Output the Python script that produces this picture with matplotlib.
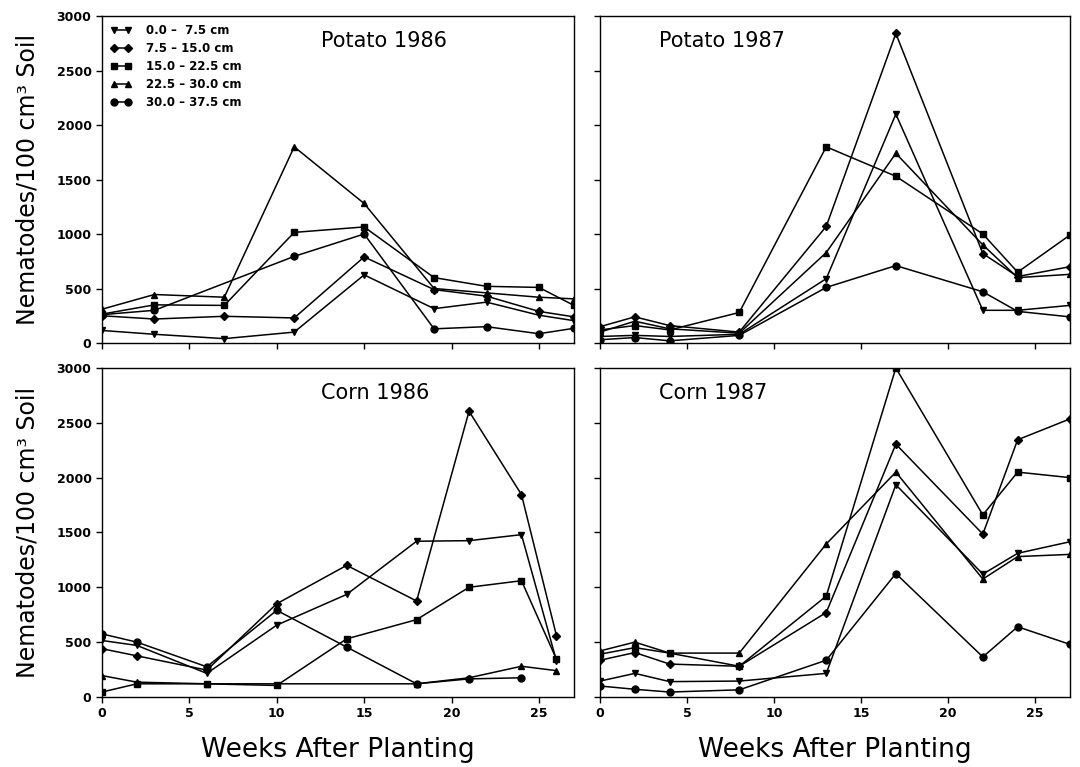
import numpy as np
import matplotlib.pyplot as plt

# depth classes and their markers
depths = ['0.0 \u2013  7.5 cm', '7.5 \u2013 15.0 cm', '15.0 \u2013 22.5 cm',
          '22.5 \u2013 30.0 cm', '30.0 \u2013 37.5 cm']
markers = ['v', 'D', 's', '^', 'o']

# Potato 1986
pot86_weeks = [0, 3, 7, 11, 15, 19, 22, 25, 27]
pot86_d1 = [115, 80, 40, 100, 625, 315, 375, 255, 205]
pot86_d2 = [250, 220, 245, 230, 790, 490, 430, 290, 240]
pot86_d3 = [265, 350, 345, 1015, 1065, 600, 520, 510, 345]
pot86_d4 = [310, 445, 420, 1800, 1280, 500, 460, 420, 405]
pot86_d5_weeks = [0, 3, 11, 15, 19, 22, 25, 27]
pot86_d5 = [260, 300, 795, 1000, 130, 150, 85, 135]

# Potato 1987
pot87_weeks = [0, 2, 4, 8, 13, 17, 22, 24, 27]
pot87_d1 = [60, 70, 60, 80, 590, 2100, 300, 300, 345]
pot87_d2 = [150, 240, 160, 100, 1070, 2840, 820, 610, 700]
pot87_d3 = [120, 160, 120, 280, 1800, 1530, 1000, 650, 990]
pot87_d4 = [100, 200, 130, 90, 830, 1740, 900, 600, 630]
pot87_d5 = [30, 50, 20, 70, 510, 710, 470, 290, 240]

# Corn 1986
corn86_weeks = [0, 2, 6, 10, 14, 18, 21, 24, 26]
corn86_d1 = [515, 470, 215, 655, 935, 1420, 1425, 1480, 330]
corn86_d2 = [440, 375, 245, 850, 1200, 875, 2605, 1845, 560]
corn86_d3 = [45, 120, 120, 105, 530, 705, 1000, 1060, 345]
corn86_d4_weeks = [0, 2, 6, 18, 21, 24, 26]
corn86_d4 = [195, 135, 120, 120, 175, 280, 240]
corn86_d5_weeks = [0, 2, 6, 10, 14, 18, 21, 24]
corn86_d5 = [575, 500, 275, 790, 455, 120, 165, 175]

# Corn 1987
corn87_weeks = [0, 2, 4, 8, 13, 17, 22, 24, 27]
corn87_d1 = [145, 215, 140, 145, 215, 1935, 1120, 1310, 1415]
corn87_d2 = [335, 405, 300, 280, 770, 2305, 1485, 2345, 2535]
corn87_d3 = [390, 450, 400, 280, 920, 3000, 1660, 2050, 2000]
corn87_d4 = [420, 500, 400, 400, 1395, 2050, 1075, 1280, 1300]
corn87_d5 = [100, 70, 45, 65, 335, 1125, 365, 640, 480]

panels = [
    ('Potato 1986', [(pot86_weeks, pot86_d1), (pot86_weeks, pot86_d2),
                     (pot86_weeks, pot86_d3), (pot86_weeks, pot86_d4),
                     (pot86_d5_weeks, pot86_d5)]),
    ('Potato 1987', [(pot87_weeks, pot87_d1), (pot87_weeks, pot87_d2),
                     (pot87_weeks, pot87_d3), (pot87_weeks, pot87_d4),
                     (pot87_weeks, pot87_d5)]),
    ('Corn 1986', [(corn86_weeks, corn86_d1), (corn86_weeks, corn86_d2),
                   (corn86_weeks, corn86_d3), (corn86_d4_weeks, corn86_d4),
                   (corn86_d5_weeks, corn86_d5)]),
    ('Corn 1987', [(corn87_weeks, corn87_d1), (corn87_weeks, corn87_d2),
                   (corn87_weeks, corn87_d3), (corn87_weeks, corn87_d4),
                   (corn87_weeks, corn87_d5)]),
]

fig = plt.figure(figsize=(10.8, 7.67), dpi=100)
rects = [
    [0.0944, 0.5528, 0.437, 0.4263],
    [0.5556, 0.5528, 0.435, 0.4263],
    [0.0944, 0.0913, 0.437, 0.4290],
    [0.5556, 0.0913, 0.435, 0.4290],
]
title_x = [0.465, 0.125, 0.465, 0.125]

for i, ((title, series), rect) in enumerate(zip(panels, rects)):
    ax = fig.add_axes(rect)
    for (wk, vals), m, lab in zip(series, markers, depths):
        ax.plot(wk, vals, color='black', linewidth=1.1, marker=m,
                markersize=5 if m != 'D' else 4, label=lab)
    ax.set_xlim(0, 27)
    ax.set_ylim(0, 3000)
    ax.set_xticks(np.arange(0, 26, 5))
    ax.set_yticks(np.arange(0, 3001, 500))
    ax.tick_params(direction='out', length=4, width=1, labelsize=9)
    for lbl in ax.get_xticklabels() + ax.get_yticklabels():
        lbl.set_fontweight('bold')
    for sp in ax.spines.values():
        sp.set_linewidth(1.0)
    ax.text(title_x[i], 0.925, title, transform=ax.transAxes,
            fontsize=15, ha='left', va='center')
    if i in (1, 3):
        ax.set_yticklabels([])
    if i in (0, 1):
        ax.set_xticklabels([])
    if i in (0, 2):
        ax.set_ylabel('Nematodes/100 cm\u00b3 Soil', fontsize=17, labelpad=12)
    if i in (2, 3):
        ax.set_xlabel('Weeks After Planting', fontsize=19, labelpad=12)
    if i == 0:
        leg = ax.legend(loc='upper left', numpoints=2, frameon=False,
                        handlelength=1.8, handletextpad=1.2, labelspacing=0.42,
                        borderaxespad=0.3,
                        prop={'size': 8.5, 'weight': 'bold'})

plt.savefig('out.png', dpi=100)
